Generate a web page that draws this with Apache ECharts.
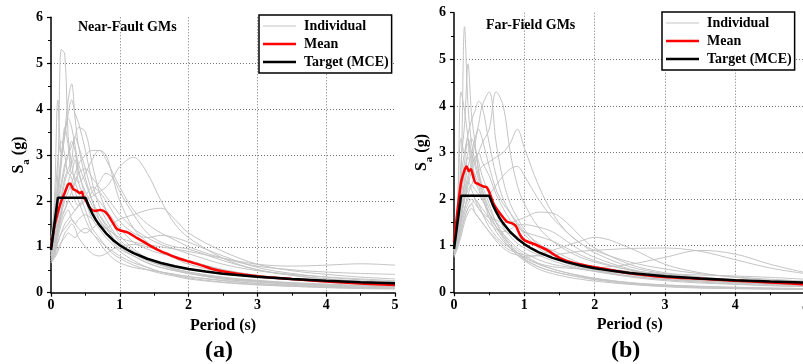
<!DOCTYPE html>
<html><head><meta charset="utf-8">
<script src="https://cdn.jsdelivr.net/npm/echarts@6/dist/echarts.min.js"></script>
<style>html,body{margin:0;padding:0;background:#fff;overflow:hidden}#c{width:803px;height:364px}</style>
</head><body><div id="c"></div>
<script>
// Period grid for individual records (s)
var periods = [0,0.05,0.1,0.15,0.2,0.25,0.3,0.35,0.4,0.5,0.6,0.7,0.8,0.9,1.0,1.2,1.4,1.6,1.8,2.0,2.5,3.0,3.5,4.0,4.5,5.0];

// Near-fault individual spectra Sa (g)
var nf01 = [0.9,1.6,2.6,5.3,5.2,3.4,2.8,2.4,2.2,1.8,1.4,1.2,1.0,0.85,0.75,0.6,0.5,0.42,0.36,0.3,0.22,0.17,0.14,0.12,0.1,0.09];
var nf02 = [0.8,1.3,2.0,2.8,3.5,4.2,4.55,3.8,3.2,2.5,2.0,1.6,1.3,1.1,0.95,0.8,0.65,0.55,0.48,0.42,0.32,0.25,0.2,0.17,0.15,0.13];
var nf03 = [1.0,2.0,4.2,3.0,3.6,3.2,2.6,2.9,2.4,2.0,1.6,1.4,1.2,1.05,0.9,0.7,0.55,0.45,0.4,0.35,0.26,0.2,0.16,0.14,0.12,0.1];
var nf04 = [0.9,1.4,2.2,2.9,3.4,3.9,4.2,3.9,3.7,3.1,2.4,1.9,1.6,1.35,1.15,0.9,0.75,0.62,0.52,0.45,0.34,0.27,0.22,0.19,0.16,0.14];
var nf05 = [0.7,0.9,1.3,1.7,2.0,2.2,2.4,2.6,2.8,3.0,3.1,3.1,2.9,2.6,2.3,1.8,1.5,1.3,1.15,1.0,0.75,0.58,0.5,0.45,0.42,0.4];
var nf06 = [0.65,0.8,1.1,1.3,1.5,1.6,1.7,1.8,1.9,2.0,2.1,2.2,2.3,2.5,2.75,2.95,2.6,2.0,1.5,1.2,0.75,0.5,0.38,0.3,0.25,0.22];
var nf07 = [0.75,0.9,1.2,1.5,1.7,1.8,1.6,1.5,1.6,1.7,1.6,1.5,1.4,1.5,1.6,1.7,1.8,1.84,1.6,1.3,0.9,0.62,0.48,0.4,0.34,0.3];
var nf08 = [0.7,0.85,1.1,1.3,1.4,1.5,1.6,1.5,1.4,1.3,1.4,1.5,1.4,1.3,1.2,1.1,1.05,1.0,0.95,0.9,0.75,0.62,0.58,0.6,0.63,0.6];
var nf09 = [0.8,1.1,1.5,1.8,2.1,2.4,2.6,2.5,2.4,2.6,2.9,3.1,3.0,2.5,2.0,1.4,1.1,0.9,0.75,0.62,0.45,0.35,0.28,0.23,0.19,0.16];
var nf10 = [1.1,1.5,2.0,2.4,2.8,3.0,3.2,3.4,3.6,3.5,2.8,2.2,1.8,1.5,1.25,0.95,0.75,0.6,0.5,0.42,0.3,0.23,0.18,0.15,0.12,0.1];
var nf11 = [0.9,1.2,1.6,2.0,2.4,2.6,2.5,2.2,2.0,1.6,1.3,1.15,1.0,0.9,0.8,0.65,0.55,0.45,0.38,0.32,0.23,0.18,0.14,0.11,0.09,0.08];
var nf12 = [1.2,1.8,2.9,3.3,3.0,2.6,2.8,3.0,2.6,2.2,1.9,1.7,1.5,1.3,1.1,0.85,0.7,0.6,0.52,0.45,0.33,0.26,0.21,0.17,0.15,0.13];
var nf13 = [0.65,0.75,0.9,1.1,1.2,1.3,1.25,1.2,1.3,1.4,1.3,1.1,0.9,0.75,0.65,0.55,0.5,0.45,0.4,0.35,0.27,0.2,0.16,0.13,0.11,0.1];
var nf14 = [0.75,1.0,1.4,1.7,1.8,2.0,2.2,2.4,2.6,2.7,2.5,2.3,2.1,1.9,1.7,1.4,1.2,1.05,0.95,0.85,0.62,0.48,0.4,0.34,0.3,0.26];
var nf15 = [0.85,1.3,1.9,2.3,2.7,3.0,3.3,3.1,2.7,2.1,1.8,1.6,1.4,1.2,1.05,0.85,0.7,0.6,0.55,0.5,0.4,0.33,0.28,0.24,0.21,0.19];
var nf16 = [0.9,1.1,1.4,1.8,2.2,2.4,2.2,2.0,1.9,2.0,2.2,2.4,2.6,2.5,2.2,1.7,1.3,1.1,1.0,0.95,0.7,0.5,0.38,0.3,0.25,0.21];
var nf17 = [0.7,0.8,0.95,1.1,1.3,1.4,1.5,1.4,1.2,1.0,0.85,0.8,0.85,0.95,1.0,1.05,1.0,0.9,0.8,0.7,0.5,0.38,0.3,0.25,0.21,0.18];
var nf18 = [1.0,1.5,2.3,3.0,3.5,3.8,3.6,3.2,2.8,2.4,2.0,1.7,1.45,1.2,1.0,0.8,0.65,0.55,0.48,0.42,0.3,0.24,0.2,0.17,0.15,0.13];
var nf19 = [0.8,1.0,1.3,1.6,1.8,2.0,1.9,1.8,1.9,2.1,2.3,2.2,2.0,1.75,1.55,1.3,1.2,1.25,1.2,1.1,0.8,0.55,0.42,0.34,0.28,0.24];
var nf20 = [0.95,1.3,1.7,2.1,2.5,2.7,2.9,3.4,3.2,2.7,2.2,2.0,1.8,1.6,1.4,1.1,0.95,0.85,0.78,0.7,0.5,0.38,0.3,0.25,0.21,0.18];

// Far-field individual spectra Sa (g)
var ff01 = [0.9,1.5,2.5,5.7,4.0,3.2,2.8,2.5,2.2,1.8,1.5,1.2,1.0,0.85,0.75,0.6,0.5,0.42,0.36,0.3,0.2,0.15,0.12,0.1,0.08,0.07];
var ff02 = [1.0,1.6,2.8,3.6,4.9,3.8,3.2,2.6,2.3,1.9,1.5,1.25,1.05,0.9,0.8,0.62,0.5,0.42,0.35,0.3,0.21,0.16,0.13,0.11,0.09,0.08];
var ff03 = [0.85,1.8,4.3,3.9,3.3,2.8,2.9,2.6,2.2,1.7,1.4,1.2,1.0,0.85,0.72,0.55,0.45,0.38,0.33,0.28,0.2,0.15,0.12,0.1,0.09,0.08];
var ff04 = [0.9,1.3,1.9,2.3,2.7,3.0,3.3,3.6,4.0,4.3,3.2,2.4,1.9,1.6,1.35,1.0,0.8,0.65,0.55,0.48,0.35,0.27,0.22,0.18,0.15,0.13];
var ff05 = [0.8,1.1,1.6,2.0,2.3,2.6,2.8,3.0,3.2,3.5,4.3,4.0,3.0,2.3,1.9,1.4,1.1,0.9,0.75,0.65,0.48,0.38,0.3,0.25,0.21,0.18];
var ff06 = [1.1,1.7,2.5,3.0,3.4,3.7,3.9,4.1,4.0,3.2,2.5,2.0,1.7,1.45,1.25,0.95,0.75,0.62,0.52,0.45,0.33,0.25,0.2,0.17,0.14,0.12];
var ff07 = [0.85,1.1,1.5,1.8,2.1,2.3,2.5,2.6,2.7,2.8,2.9,3.0,3.2,3.5,3.1,2.3,1.7,1.3,1.05,0.9,0.65,0.5,0.4,0.33,0.28,0.24];
var ff08 = [0.9,1.2,1.6,2.0,2.2,2.3,2.2,2.1,2.0,2.1,2.3,2.5,2.65,2.7,2.5,2.0,1.6,1.3,1.05,0.85,0.55,0.4,0.32,0.27,0.23,0.2];
var ff09 = [0.8,1.0,1.4,1.7,1.9,2.0,1.9,1.8,1.7,1.6,1.55,1.5,1.5,1.55,1.6,1.72,1.7,1.5,1.2,0.95,0.6,0.42,0.33,0.27,0.22,0.19];
var ff10 = [0.8,1.0,1.3,1.6,1.8,1.9,1.7,1.6,1.5,1.3,1.1,0.95,0.85,0.8,0.75,0.8,0.9,1.0,1.1,1.18,0.95,0.6,0.42,0.32,0.26,0.22];
var ff11 = [0.75,0.95,1.2,1.5,1.7,1.8,1.7,1.6,1.5,1.3,1.15,1.0,0.9,0.85,0.8,0.78,0.8,0.84,0.88,0.9,0.94,0.95,0.88,0.7,0.52,0.4];
var ff12 = [0.85,1.1,1.5,1.8,2.0,2.1,2.0,1.9,1.7,1.4,1.2,1.05,0.95,0.85,0.75,0.62,0.55,0.52,0.5,0.52,0.6,0.75,0.9,0.82,0.6,0.42];
var ff13 = [1.0,1.4,2.0,2.6,3.0,3.3,3.1,2.8,2.5,2.1,1.7,1.4,1.2,1.05,0.95,0.8,0.68,0.58,0.5,0.45,0.35,0.28,0.24,0.2,0.17,0.15];
var ff14 = [0.8,1.2,1.8,2.4,2.9,2.7,2.5,2.3,2.0,1.7,1.5,1.35,1.25,1.2,1.1,1.0,0.9,0.75,0.62,0.55,0.45,0.4,0.37,0.35,0.32,0.28];
var ff15 = [0.95,1.5,2.2,2.8,3.3,3.0,2.7,2.4,2.1,1.6,1.3,1.1,0.95,0.8,0.7,0.55,0.45,0.38,0.32,0.27,0.18,0.13,0.1,0.08,0.07,0.06];
var ff16 = [0.9,1.3,1.8,2.2,2.5,2.7,2.9,3.0,2.8,2.5,2.1,1.8,1.55,1.4,1.3,1.2,1.1,0.95,0.8,0.68,0.48,0.36,0.29,0.24,0.2,0.17];
var ff17 = [0.78,1.0,1.3,1.6,1.8,1.9,2.0,1.9,1.8,1.6,1.4,1.25,1.1,0.95,0.85,0.7,0.6,0.55,0.5,0.46,0.4,0.35,0.3,0.26,0.22,0.19];
var ff18 = [1.1,1.9,3.3,3.0,3.2,2.9,2.4,2.2,2.0,1.7,1.4,1.15,0.95,0.8,0.68,0.5,0.4,0.33,0.28,0.24,0.17,0.12,0.09,0.08,0.07,0.06];
var ff19 = [0.85,1.2,1.6,2.0,2.4,2.8,3.2,3.5,3.3,2.7,2.2,1.9,1.7,1.5,1.3,1.05,0.85,0.7,0.6,0.52,0.38,0.3,0.25,0.21,0.18,0.16];
var ff20 = [0.9,1.2,1.7,2.1,2.4,2.2,2.0,1.8,1.7,1.5,1.35,1.3,1.35,1.45,1.45,1.4,1.3,1.1,0.9,0.75,0.5,0.36,0.28,0.22,0.18,0.15];

// Mean spectra
var meanT_a  = [0,0.05,0.1,0.15,0.2,0.25,0.28,0.32,0.37,0.42,0.45,0.47,0.52,0.57,0.64,0.71,0.78,0.83,0.9,0.95,1.0,1.12,1.22,1.4,1.56,1.7,1.85,2.0,2.2,2.36,2.6,3.0,3.5,4.0,4.5,5.0];
var meanSa_a = [0.97,1.45,1.75,2.0,2.18,2.36,2.38,2.26,2.22,2.17,2.2,2.09,1.98,1.84,1.78,1.8,1.77,1.69,1.52,1.4,1.36,1.31,1.22,1.06,0.93,0.84,0.75,0.68,0.59,0.51,0.44,0.36,0.3,0.245,0.2,0.17];
var meanT_b  = [0,0.05,0.1,0.15,0.18,0.21,0.24,0.27,0.3,0.35,0.42,0.46,0.5,0.56,0.65,0.75,0.84,0.88,0.94,1.0,1.18,1.32,1.51,1.7,2.0,2.5,3.0,3.5,4.0,4.5,5.0];
var meanSa_b = [1.08,1.75,2.35,2.62,2.7,2.6,2.64,2.5,2.36,2.32,2.27,2.26,2.16,1.91,1.7,1.52,1.47,1.42,1.23,1.12,1.01,0.91,0.73,0.63,0.54,0.41,0.33,0.29,0.25,0.21,0.17];

// Target (MCE) spectrum
var targetT  = [0,0.1,0.5,0.55,0.6,0.65,0.7,0.8,0.9,1.0,1.1,1.2,1.4,1.6,1.8,2.0,2.25,2.5,3.0,3.5,4.0,4.5,5.0];
var targetSa = [0.93,2.07,2.07,1.882,1.725,1.592,1.479,1.294,1.15,1.035,0.941,0.863,0.739,0.647,0.575,0.518,0.46,0.414,0.345,0.296,0.259,0.23,0.207];

var xTicks = [0,1,2,3,4,5];
var yTicks = [0,1,2,3,4,5,6];
var panelTitles = ['Near-Fault GMs','Far-Field GMs'];
var panelLabels = ['(a)','(b)'];
var legendNames = ['Individual','Mean','Target (MCE)'];

var nearFault = [nf01,nf02,nf03,nf04,nf05,nf06,nf07,nf08,nf09,nf10,nf11,nf12,nf13,nf14,nf15,nf16,nf17,nf18,nf19,nf20];
var farField = [ff01,ff02,ff03,ff04,ff05,ff06,ff07,ff08,ff09,ff10,ff11,ff12,ff13,ff14,ff15,ff16,ff17,ff18,ff19,ff20];

var FONT = "'Liberation Serif','Times New Roman',serif";
function pairs(t, v){ return t.map(function(x,i){ return [x, v[i]]; }); }

function xAxisCfg(gi){
  return {
    type:'value', gridIndex:gi, min:xTicks[0], max:xTicks[xTicks.length-1], interval:1,
    name:'Period (s)', nameLocation:'middle', nameGap:22,
    nameTextStyle:{fontFamily:FONT, fontWeight:'bold', fontSize:16, color:'#000'},
    axisLine:{show:true, onZero:false, lineStyle:{color:'#000', width:1.5}},
    axisTick:{show:true, inside:false, length:4, lineStyle:{color:'#000', width:1.2}},
    minorTick:{show:true, splitNumber:2, length:3, lineStyle:{color:'#000', width:1}},
    splitLine:{show:true, showMinLine:false, showMaxLine:false, lineStyle:{type:[1,2], color:'#777', width:1}},
    axisLabel:{fontFamily:FONT, fontWeight:'bold', fontSize:14, color:'#000', margin:6}
  };
}
function yAxisCfg(gi){
  return {
    type:'value', gridIndex:gi, min:yTicks[0], max:yTicks[yTicks.length-1], interval:1,
    name:'{s|S}{sub|a}{s| (g)}', nameLocation:'middle', nameGap:19, nameRotate:90,
    nameTextStyle:{fontFamily:FONT, fontWeight:'bold', fontSize:16, color:'#000',
      rich:{ s:{fontFamily:FONT, fontWeight:'bold', fontSize:16, color:'#000', lineHeight:16, verticalAlign:'top'},
             sub:{fontFamily:FONT, fontWeight:'bold', fontSize:11, color:'#000', lineHeight:21, verticalAlign:'bottom'} }},
    axisLine:{show:true, onZero:false, lineStyle:{color:'#000', width:1.5}},
    axisTick:{show:true, inside:false, length:4, lineStyle:{color:'#000', width:1.2}},
    minorTick:{show:true, splitNumber:2, length:3, lineStyle:{color:'#000', width:1}},
    splitLine:{show:true, showMinLine:false, showMaxLine:false, lineStyle:{type:[1,2], color:'#777', width:1}},
    axisLabel:{fontFamily:FONT, fontWeight:'bold', fontSize:14, color:'#000', margin:8}
  };
}

var series = [];
[nearFault, farField].forEach(function(set, gi){
  set.forEach(function(v){
    series.push({name:'Individual', type:'line', xAxisIndex:gi, yAxisIndex:gi, data:pairs(periods, v),
      smooth:0.35, symbol:'none', silent:true, lineStyle:{color:'#c4c4c4', width:1}, itemStyle:{color:'#c4c4c4'}, z:1});
  });
});
series.push({name:'Mean', type:'line', xAxisIndex:0, yAxisIndex:0, data:pairs(meanT_a, meanSa_a), smooth:0.25, symbol:'none', lineStyle:{color:'#ff0000', width:2.5}, itemStyle:{color:'#ff0000'}, z:3});
series.push({name:'Mean', type:'line', xAxisIndex:1, yAxisIndex:1, data:pairs(meanT_b, meanSa_b), smooth:0.25, symbol:'none', lineStyle:{color:'#ff0000', width:2.5}, itemStyle:{color:'#ff0000'}, z:3});
series.push({name:'Target (MCE)', type:'line', xAxisIndex:0, yAxisIndex:0, data:pairs(targetT, targetSa), smooth:false, symbol:'none', lineStyle:{color:'#000', width:2.5}, itemStyle:{color:'#000'}, z:4});
series.push({name:'Target (MCE)', type:'line', xAxisIndex:1, yAxisIndex:1, data:pairs(targetT, targetSa), smooth:false, symbol:'none', lineStyle:{color:'#000', width:2.5}, itemStyle:{color:'#000'}, z:4});

var thinIcon = 'path://M0,0M33,14M0,6.5h33v1h-33z';
var thickIcon = 'path://M0,0M33,14M0,5.75h33v2.5h-33z';
function legendCfg(left, top){
  return {
    data:[
      {name:legendNames[0], icon:thinIcon, itemStyle:{color:'#c4c4c4'}},
      {name:legendNames[1], icon:thickIcon, itemStyle:{color:'#ff0000'}},
      {name:legendNames[2], icon:thickIcon, itemStyle:{color:'#000'}}
    ],
    orient:'vertical', left:left, top:top, selectedMode:false,
    itemWidth:33, itemHeight:14, itemGap:4, padding:[4,3,4,4],
    borderColor:'#000', borderWidth:1.5, backgroundColor:'#fff',
    textStyle:{fontFamily:FONT, fontWeight:'bold', fontSize:14, color:'#000', lineHeight:14, padding:[0,0,0,3]}
  };
}

var chart = echarts.init(document.getElementById('c'), null, {renderer:'canvas'});
chart.setOption({
  animation:false,
  backgroundColor:'#fff',
  grid:[
    {left:51, top:17.3, width:344, height:275.4, outerBoundsMode:'none', containLabel:false},
    {left:454, top:12.7, width:351.6, height:279.6, outerBoundsMode:'none', containLabel:false}
  ],
  xAxis:[xAxisCfg(0), xAxisCfg(1)],
  yAxis:[yAxisCfg(0), yAxisCfg(1)],
  legend:[legendCfg(259, 15), legendCfg(662, 12)],
  graphic:[
    {type:'text', left:78, top:20, style:{text:panelTitles[0], fontFamily:FONT, fontWeight:'bold', fontSize:14, fill:'#000'}},
    {type:'text', left:486, top:18, style:{text:panelTitles[1], fontFamily:FONT, fontWeight:'bold', fontSize:14, fill:'#000'}},
    {type:'text', left:205, top:339, style:{text:panelLabels[0], fontFamily:FONT, fontWeight:'bold', fontSize:24, fill:'#000'}},
    {type:'text', left:611, top:339, style:{text:panelLabels[1], fontFamily:FONT, fontWeight:'bold', fontSize:24, fill:'#000'}}
  ],
  series:series
});
</script></body></html>
